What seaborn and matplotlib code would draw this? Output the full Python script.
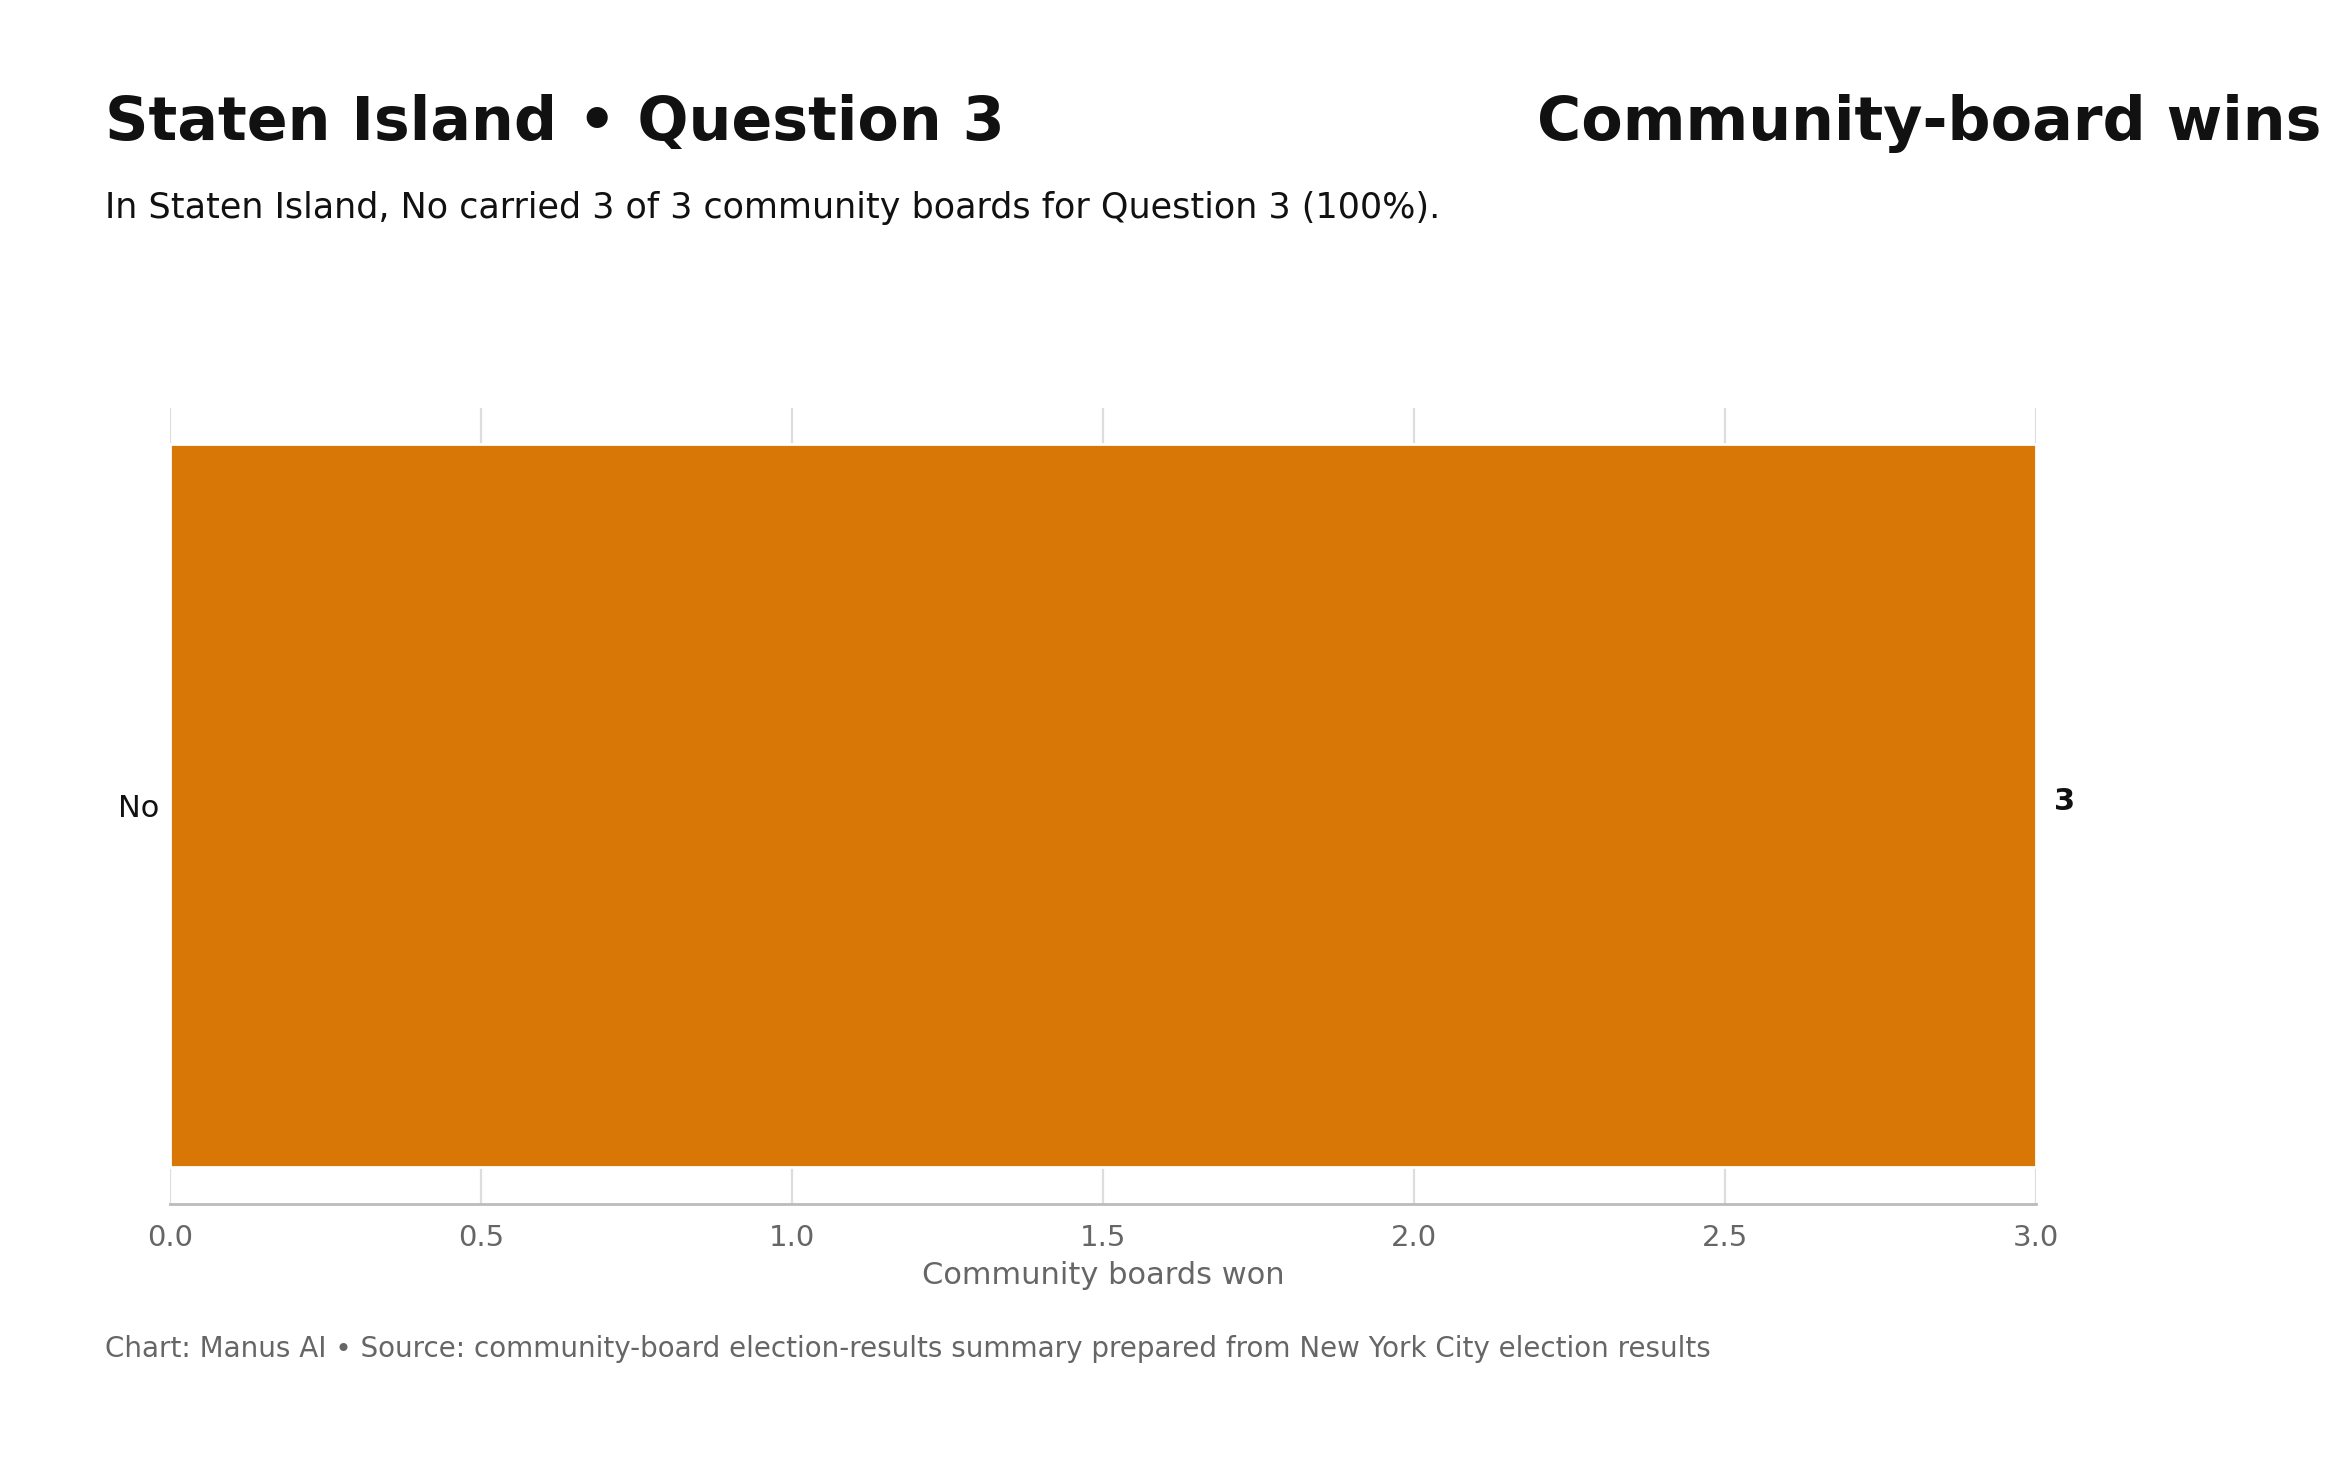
import matplotlib
matplotlib.use("Agg")
import matplotlib.pyplot as plt
import pandas as pd
import seaborn as sb

# data
outcomes = ["No"]
boards_won = [3]
boards_total = 3
x_ticks = [0.0, 0.5, 1.0, 1.5, 2.0, 2.5, 3.0]

title_left = "Staten Island \u2022 Question 3"
title_right = "Community-board wins"
subtitle = "In Staten Island, No carried 3 of 3 community boards for Question 3 (100%)."
footer = ("Chart: Manus AI \u2022 Source: community-board election-results summary "
          "prepared from New York City election results")


def createChart(output_path):
    sb.set_style("white")
    plt.rcParams['font.family'] = ['DejaVu Sans']

    data = pd.DataFrame({'outcome': outcomes, 'won': boards_won})

    fig = plt.figure(figsize=(11.645, 7.375), dpi=200)
    ax = fig.add_axes([0.0731, 0.184, 0.8009, 0.5397])

    sb.barplot(data=data, x='won', y='outcome', orient='h', color='#D97706',
               saturation=1, width=0.8, ax=ax)

    ax.set_xlim(0, boards_total)
    ax.set_ylim(0.44, -0.44)
    ax.set_xticks(x_ticks)
    ax.set_xticklabels([f"{t:.1f}" for t in x_ticks])
    ax.xaxis.grid(True, color='#dddddd', linewidth=0.8)
    ax.set_axisbelow(True)

    for side in ['left', 'right', 'top']:
        ax.spines[side].set_visible(False)
    ax.spines['bottom'].set_color('#bbbbbb')
    ax.spines['bottom'].set_linewidth(1.0)

    ax.tick_params(axis='x', colors='#666666', labelsize=10.5, length=5, width=0.8,
                   labelcolor='#666666', pad=2.5)
    ax.tick_params(axis='y', length=0, labelsize=11, labelcolor='#111111', pad=4)
    ax.set_xlabel('Community boards won', fontsize=11, color='#666666', labelpad=3)
    ax.set_ylabel('')

    # value label at the end of the bar
    for i, v in enumerate(boards_won):
        ax.text(v + 0.03, i - 0.005, f"{v}", va='center', ha='left',
                fontsize=11, fontweight='bold', color='#111111')

    fig.text(0.0449, 0.905, title_left, fontsize=21.7, fontweight='bold',
             color='#111111', va='baseline', ha='left')
    fig.text(0.660, 0.905, title_right, fontsize=21.7, fontweight='bold',
             color='#111111', va='baseline', ha='left')
    fig.text(0.0449, 0.852, subtitle, fontsize=12.6, color='#111111',
             va='baseline', ha='left')
    fig.text(0.0449, 0.080, footer, fontsize=10, color='#666666',
             va='baseline', ha='left')

    fig.savefig(output_path, dpi=200, facecolor='white')
    plt.close(fig)


def main():
    createChart('out.png')


if "__main__" == __name__:
    main()
